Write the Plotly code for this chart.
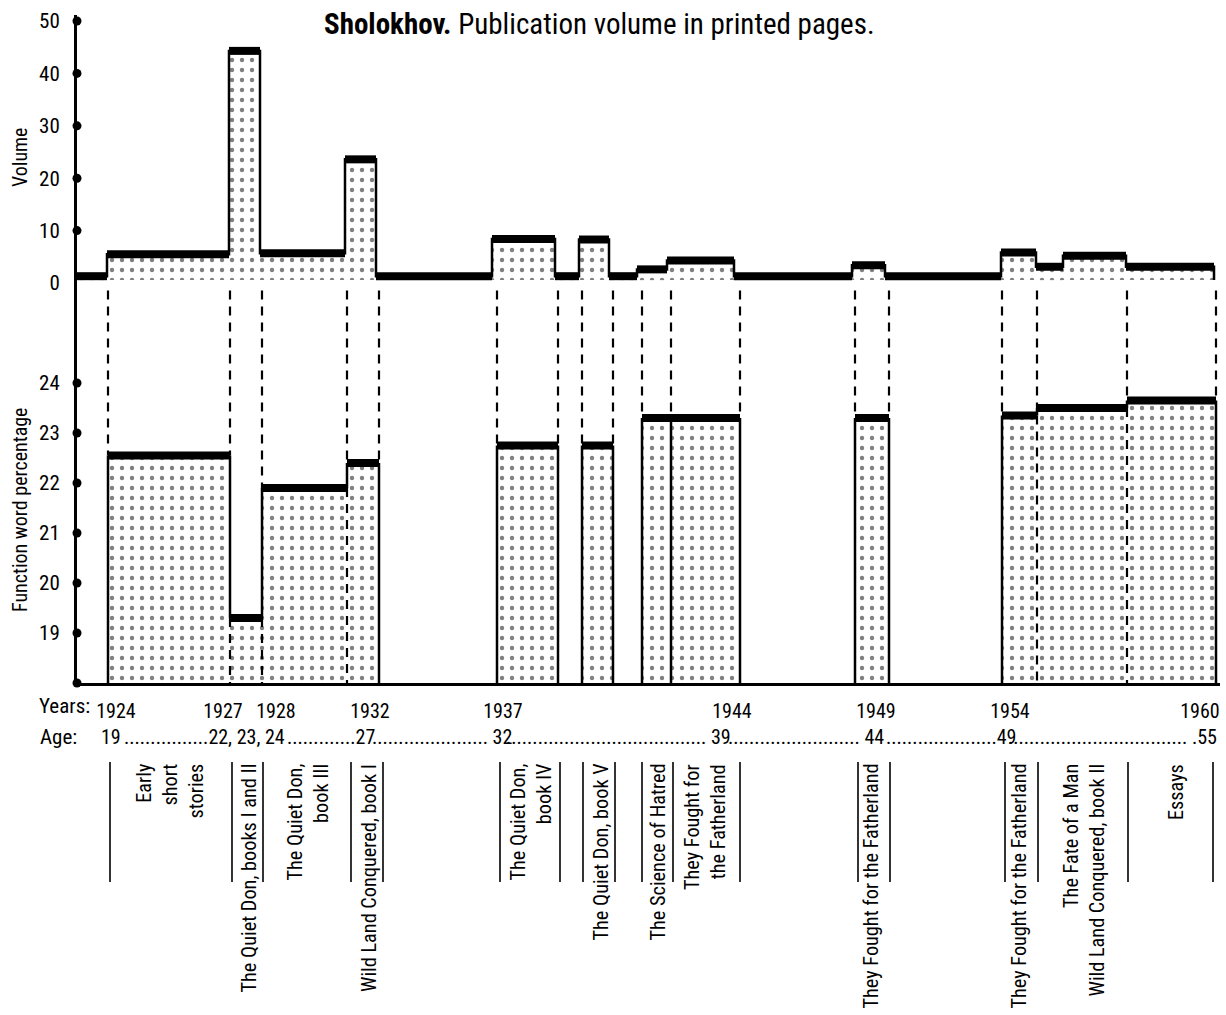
import plotly.graph_objects as go

# ---------------- data ----------------
# positions are given in schematic timeline units along the horizontal axis
vol_edges = [77, 107, 229, 260, 345, 376, 492, 555, 579, 609, 637, 667,
             734, 852, 885, 1001, 1036, 1063, 1126, 1214]
vol_pages = [1.3, 5.5, 44.3, 5.7, 23.6, 1.3, 8.4, 1.3, 8.3, 1.3, 2.6, 4.3,
             1.3, 3.4, 1.3, 5.8, 3.1, 5.2, 3.1]

fw_left = [108, 230, 262, 347, 497, 582, 642, 671, 855, 1002, 1037, 1127]
fw_right = [230, 262, 347, 379, 558, 613, 671, 740, 889, 1037, 1127, 1216]
fw_pct = [22.55, 19.3, 21.9, 22.4, 22.75, 22.75, 23.3, 23.3, 23.3, 23.35, 23.5, 23.65]

year_pos = [116, 223, 276, 370, 503, 732, 876, 1010, 1200]
year_labels = ["1924", "1927", "1928", "1932", "1937", "1944", "1949", "1954", "1960"]

age_end = [122, 286, 376, 513, 732, 885, 1018, 1218]
age_labels = ["19", "22, 23, 24", "27", "32", "39", "44", "49", ".55"]
age_leaders = [0, 16, 13, 22, 38, 25, 21, 34]
age_space = [False, False, False, True, True, True, False, True]

work_titles = ["Early<br>short<br>stories", "The Quiet Don, books I and II",
               "The Quiet Don,<br>book III", "Wild Land Conquered, book I",
               "The Quiet Don,<br>book IV", "The Quiet Don, book V",
               "The Science of Hatred", "They Fought for<br>the Fatherland",
               "They Fought for the Fatherland", "They Fought for the Fatherland",
               "The Fate of a Man<br>Wild Land Conquered, book II", "Essays"]
work_pos = [170, 248, 307, 369, 530, 600, 657, 705, 870, 1018, 1083, 1176]
work_bounds = [110, 232, 263, 351, 383, 500, 560, 583, 615, 642, 673, 740,
               858, 890, 1005, 1038, 1128, 1213]

vol_ticks = [0, 10, 20, 30, 40, 50]
fw_ticks = [19, 20, 21, 22, 23, 24]

# ---------------- layout constants ----------------
W, H = 1226, 1015
L, R, T, B = 77, 6, 15, 332
PW, PH = W - L - R, H - T - B
SPLIT = 283  # pixel row between the panels
FONT = "Liberation Sans Narrow, Arial Narrow, Roboto Condensed, DejaVu Sans Condensed, sans-serif"
FLOOR = 0.55
FW_BASE = 18
FW_TOP = 26
VOL_TOP = 51.15


def py(p):
    return (H - B - p) / PH


def pxx(p):
    return (p - L) / PW


split_frac = py(SPLIT)
pattern = dict(shape=".", fgcolor="black", bgcolor="white", size=10, solidity=0.15)

fig = go.Figure()

# ---- top panel: publication volume ----
centers = [(vol_edges[i] + vol_edges[i + 1]) / 2 for i in range(len(vol_pages))]
widths = [vol_edges[i + 1] - vol_edges[i] for i in range(len(vol_pages))]
fig.add_trace(go.Bar(x=centers, y=[v - FLOOR for v in vol_pages], base=FLOOR, width=widths,
                     marker=dict(color="white", line=dict(width=0), pattern=pattern),
                     xaxis="x", yaxis="y"))
sx, sy = [vol_edges[0]], [vol_pages[0]]
for i, v in enumerate(vol_pages):
    sx += [vol_edges[i], vol_edges[i + 1]]
    sy += [v, v]
sx.append(vol_edges[-1])
sy.append(FLOOR)
fig.add_trace(go.Scatter(x=sx, y=sy, mode="lines", line=dict(color="black", width=2.5),
                         xaxis="x", yaxis="y"))
tx, ty = [], []
for i, v in enumerate(vol_pages):
    tx += [vol_edges[i], vol_edges[i + 1], None]
    ty += [v, v, None]
fig.add_trace(go.Scatter(x=tx, y=ty, mode="lines", line=dict(color="black", width=8),
                         xaxis="x", yaxis="y"))

# ---- bottom panel: function word percentage ----
fc = [(a + b) / 2 for a, b in zip(fw_left, fw_right)]
fwid = [b - a for a, b in zip(fw_left, fw_right)]
fig.add_trace(go.Bar(x=fc, y=[v - FW_BASE for v in fw_pct], base=FW_BASE, width=fwid,
                     marker=dict(color="white", line=dict(width=0), pattern=pattern),
                     xaxis="x", yaxis="y2"))

edges = sorted(set(fw_left + fw_right))
solid_x, solid_y, dash_x, dash_y = [], [], [], []
for e in edges:
    lv = [v for v, r in zip(fw_pct, fw_right) if r == e]
    rv = [v for v, l in zip(fw_pct, fw_left) if l == e]
    vals = lv + rv
    hi = max(vals)
    dash_x += [e, e, None]
    dash_y += [FW_TOP - 0.15, hi, None]
    if len(vals) == 2 and vals[0] != vals[1]:
        lo = min(vals)
        solid_x += [e, e, None]
        solid_y += [hi, lo, None]
        dash_x += [e, e, None]
        dash_y += [lo, FW_BASE, None]
    else:
        solid_x += [e, e, None]
        solid_y += [hi, FW_BASE, None]
fig.add_trace(go.Scatter(x=solid_x, y=solid_y, mode="lines", line=dict(color="black", width=2.5),
                         xaxis="x", yaxis="y2"))
fig.add_trace(go.Scatter(x=dash_x, y=dash_y, mode="lines",
                         line=dict(color="black", width=2.2, dash="9px,7px"),
                         xaxis="x", yaxis="y2", cliponaxis=False))
bx, by = [], []
for a, b, v in zip(fw_left, fw_right, fw_pct):
    bx += [a, b, None]
    by += [v, v, None]
fig.add_trace(go.Scatter(x=bx, y=by, mode="lines", line=dict(color="black", width=8),
                         xaxis="x", yaxis="y2"))

# ---- axis tick dots ----
fig.add_trace(go.Scatter(x=[vol_edges[0]] * 5, y=vol_ticks[1:], mode="markers",
                         marker=dict(color="black", size=9), cliponaxis=False,
                         xaxis="x", yaxis="y"))
fig.add_trace(go.Scatter(x=[vol_edges[0]] * 7, y=[FW_BASE] + fw_ticks, mode="markers",
                         marker=dict(color="black", size=9), cliponaxis=False,
                         xaxis="x", yaxis="y2"))

# ---- annotations ----
ann = []
ann.append(dict(text="<b>Sholokhov.</b> Publication volume in printed pages.",
                x=pxx(599), y=py(24), xref="paper", yref="paper", showarrow=False,
                xanchor="center", yanchor="middle", font=dict(size=29)))
ann.append(dict(text="Volume", x=pxx(20), y=py(157), xref="paper", yref="paper",
                showarrow=False, textangle=-90, xanchor="center", yanchor="middle",
                font=dict(size=20)))
ann.append(dict(text="Function word percentage", x=pxx(20), y=py(510), xref="paper",
                yref="paper", showarrow=False, textangle=-90, xanchor="center",
                yanchor="middle", font=dict(size=20)))
ann.append(dict(text="Years:", x=pxx(37), y=py(706), xref="paper", yref="paper",
                showarrow=False, xanchor="left", yanchor="middle", font=dict(size=21)))
ann.append(dict(text="Age:", x=pxx(38), y=py(737), xref="paper", yref="paper",
                showarrow=False, xanchor="left", yanchor="middle", font=dict(size=21)))
for pos, lab, n, sp in zip(age_end, age_labels, age_leaders, age_space):
    txt = ("." * n) + (" " if sp else "") + lab
    ann.append(dict(text=txt, x=pos, y=py(737), xref="x", yref="paper", showarrow=False,
                    xanchor="right", yanchor="middle", font=dict(size=20),
                    borderpad=0))
for pos, lab in zip(work_pos, work_titles):
    ann.append(dict(text=lab, x=pos, y=py(762), xref="x", yref="paper", showarrow=False,
                    xanchor="center", yanchor="top", textangle=-90, align="right",
                    font=dict(size=20.3)))

shapes = []
for b in work_bounds:
    shapes.append(dict(type="line", xref="x", yref="paper", x0=b, x1=b,
                       y0=py(762), y1=py(882), line=dict(color="black", width=1.6)))

fig.update_layout(
    width=W, height=H, margin=dict(l=L, r=R, t=T, b=B),
    paper_bgcolor="white", plot_bgcolor="white", showlegend=False,
    barmode="overlay", hovermode=False,
    font=dict(family=FONT, color="black"),
    annotations=ann, shapes=shapes,
    xaxis=dict(range=[L, W - R], anchor="y2", showgrid=False, zeroline=False,
               showline=True, linecolor="black", linewidth=3,
               tickvals=year_pos, ticktext=year_labels, ticks="",
               tickfont=dict(size=20), ticklabelstandoff=8),
    yaxis=dict(domain=[split_frac, 1], range=[0, VOL_TOP], anchor="x", showgrid=False,
               zeroline=False, showline=True, linecolor="black", linewidth=3,
               tickvals=vol_ticks, ticks="", tickfont=dict(size=21), ticklabelstandoff=10),
    yaxis2=dict(domain=[0, split_frac], range=[FW_BASE, FW_TOP], anchor="x", showgrid=False,
                zeroline=False, showline=True, linecolor="black", linewidth=3,
                tickvals=fw_ticks, ticks="", tickfont=dict(size=21), ticklabelstandoff=10),
)

fig.write_html("out.html", config={"displayModeBar": False},
               post_script="document.body.style.margin='0px';")
